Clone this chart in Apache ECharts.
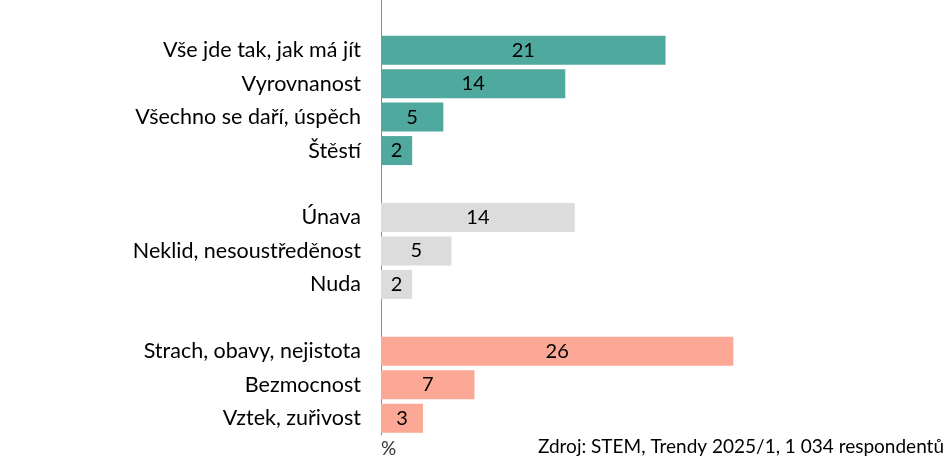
<!DOCTYPE html>
<html>
<head>
<meta charset="utf-8">
<script src="https://cdn.jsdelivr.net/npm/echarts@6/dist/echarts.min.js"></script>
<style>
  html, body { margin: 0; padding: 0; background: #fff; }
  #main { width: 945px; height: 464px; }
</style>
</head>
<body>
<div id="main"></div>
<script>
// skupiny odpovedi (v %)
var positiveNames = ['Vše jde tak, jak má jít', 'Vyrovnanost', 'Všechno se daří, úspěch', 'Štěstí'];
var positiveValues = [21.0, 13.6, 4.6, 2.3];
var neutralNames = ['Únava', 'Neklid, nesoustředěnost', 'Nuda'];
var neutralValues = [14.3, 5.2, 2.3];
var negativeNames = ['Strach, obavy, nejistota', 'Bezmocnost', 'Vztek, zuřivost'];
var negativeValues = [26.0, 6.9, 3.1];

var groupColors = ['#4fa99e', '#dcdcdc', '#fca896'];

var categories = [];
var seriesData = [];
var gap = ' ';

function addGroup(names, values, color) {
    categories.push(gap);
    seriesData.push(null);
    gap += ' ';
    for (var i = 0; i < names.length; i++) {
        categories.push(names[i]);
        seriesData.push({ value: values[i], itemStyle: { color: color } });
    }
}

addGroup(positiveNames, positiveValues, groupColors[0]);
addGroup(neutralNames, neutralValues, groupColors[1]);
addGroup(negativeNames, negativeValues, groupColors[2]);

var myChart = echarts.init(document.getElementById('main'));

var option = {
    animation: false,
    textStyle: { fontFamily: 'Lato, sans-serif' },
    grid: {
        left: 381,
        right: 22,
        top: 0,
        bottom: 29,
        containLabel: false
    },
    xAxis: {
        type: 'value',
        min: 0,
        max: 40,
        axisLine: { show: false },
        axisTick: { show: false },
        axisLabel: { show: false },
        splitLine: { show: false }
    },
    yAxis: {
        type: 'category',
        inverse: true,
        data: categories,
        axisLine: { show: true, lineStyle: { color: '#8c8c8c', width: 1 } },
        axisTick: { show: false },
        axisLabel: {
            margin: 20,
            fontSize: 21.5,
            color: '#000',
            fontFamily: 'Lato, sans-serif'
        }
    },
    series: [{
        type: 'bar',
        data: seriesData,
        barWidth: 29,
        label: {
            show: true,
            position: 'inside',
            color: '#000',
            fontSize: 20,
            fontFamily: 'Lato, sans-serif',
            formatter: function (p) {
                return Math.round(p.value);
            }
        }
    }],
    graphic: [{
        type: 'text',
        left: 381,
        top: 439,
        style: { text: '%', fontSize: 19, fill: '#333', fontFamily: 'Lato, sans-serif' }
    }, {
        type: 'text',
        right: 1,
        top: 437,
        style: { text: 'Zdroj: STEM, Trendy 2025/1, 1 034 respondentů', fontSize: 19, fill: '#000', fontFamily: 'Lato, sans-serif' }
    }]
};

myChart.setOption(option);
</script>
</body>
</html>
